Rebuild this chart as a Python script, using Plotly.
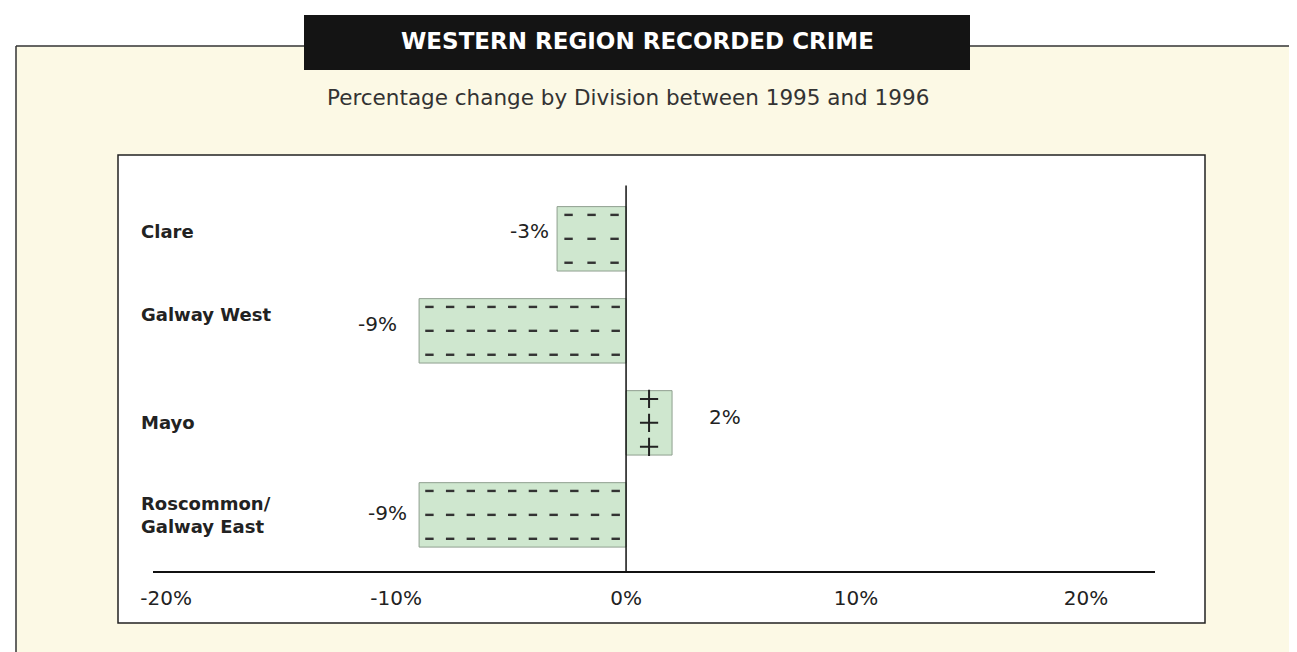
import plotly.graph_objects as go

# data
DIVISIONS = ['Clare', 'Galway West', 'Mayo', 'Roscommon/<br>Galway East']
CHANGE = [-3, -9, 2, -9]
TICK_VALUES = [-20, -10, 0, 10, 20]
TICK_LABELS = ['-20%', '-10%', '0%', '10%', '20%']

TITLE = 'WESTERN REGION RECORDED CRIME'
SUBTITLE = 'Percentage change by Division between 1995 and 1996'

W, H = 1297, 652
L, R, T, B = 145, 150, 148, 89
FONT = 'DejaVu Sans'
INK = '#222222'
BAR_FILL = '#cfe7cf'
PAPER_TINT = '#fcf9e5'

# hand placement of the labels in the original (pixels)
NAME_DY = [7, 16, 0, 0]
VALUE_DX = [-6, -20, 35, -10]
VALUE_DY = [8, 7, 6, 2]

pos = list(range(len(DIVISIONS)))


def px_x(x):
    # pixel -> paper fraction (horizontal)
    return (x - L) / (W - L - R)


def px_y(y):
    return (H - B - y) / (H - T - B)


fig = go.Figure()

fig.add_trace(go.Bar(
    y=pos, x=CHANGE, orientation='h', width=0.7,
    marker=dict(color=BAR_FILL, line=dict(color='#8f9f8f', width=1)),
    hoverinfo='skip', showlegend=False,
))

# little dashes inside the negative bars, plus signs inside the positive ones
rows = [-0.26, 0, 0.26]
dx, dy, ppx, ppy = [], [], [], []
for p, v in zip(pos, CHANGE):
    if v < 0:
        n = max(1, round(-v / 0.9))
        step = -v / n
        for k in range(n):
            for r in rows:
                dx.append(-(k + 0.5) * step)
                dy.append(p + r)
    else:
        for r in rows:
            ppx.append(v / 2)
            ppy.append(p + r)

fig.add_trace(go.Scatter(
    x=dx, y=dy, mode='markers', hoverinfo='skip', showlegend=False,
    marker=dict(symbol='line-ew', size=6, line=dict(color='#333333', width=2.4)),
))
fig.add_trace(go.Scatter(
    x=ppx, y=ppy, mode='markers', hoverinfo='skip', showlegend=False,
    marker=dict(symbol='cross-thin', size=13, line=dict(color=INK, width=2)),
))

shapes = [
    # pale yellow panel with its top and left rule
    dict(type='rect', xref='paper', yref='paper', layer='below',
         x0=px_x(8), x1=px_x(1310), y0=px_y(670), y1=px_y(38),
         fillcolor=PAPER_TINT, line=dict(width=0)),
    dict(type='line', xref='paper', yref='paper', layer='below',
         x0=px_x(8), x1=px_x(1297), y0=px_y(38), y1=px_y(38),
         line=dict(color='#333333', width=1.5)),
    dict(type='line', xref='paper', yref='paper', layer='below',
         x0=px_x(8), x1=px_x(8), y0=px_y(38), y1=px_y(660),
         line=dict(color='#333333', width=1.5)),
    # white inner box
    dict(type='rect', xref='paper', yref='paper', layer='below',
         x0=px_x(110), x1=px_x(1197), y0=px_y(615), y1=px_y(147),
         fillcolor='white', line=dict(color='#222222', width=1.5)),
    # black title bar
    dict(type='rect', xref='paper', yref='paper', layer='below',
         x0=px_x(296), x1=px_x(962), y0=px_y(62), y1=px_y(7),
         fillcolor='#141414', line=dict(width=0)),
    # zero line
    dict(type='line', xref='x', yref='y', x0=0, x1=0, y0=-0.58, y1=3.61,
         line=dict(color='#111111', width=1.5)),
]

annotations = [
    dict(text=f'<b>{TITLE}</b>', xref='paper', yref='paper',
         x=px_x(629), y=px_y(33), yanchor='middle', showarrow=False,
         font=dict(family=FONT, size=23, color='white')),
    dict(text=SUBTITLE, xref='paper', yref='paper',
         x=px_x(620), y=px_y(89), yanchor='middle', showarrow=False,
         font=dict(family=FONT, size=21.5, color='#333333')),
]

for p, name, ny in zip(pos, DIVISIONS, NAME_DY):
    annotations.append(dict(
        text=f'<b>{name}</b>', xref='paper', yref='y', x=px_x(131), y=p,
        xanchor='left', yanchor='middle', align='left', yshift=ny,
        showarrow=False, font=dict(family=FONT, size=18, color=INK)))

for p, v, sx, sy in zip(pos, CHANGE, VALUE_DX, VALUE_DY):
    annotations.append(dict(
        text=f'{v}%', xref='x', yref='y', x=v, y=p, showarrow=False,
        xanchor='right' if v < 0 else 'left', yanchor='middle',
        xshift=sx, yshift=sy,
        font=dict(family=FONT, size=20, color=INK)))

fig.update_layout(
    width=W, height=H,
    margin=dict(l=L, r=R, t=T, b=B),
    paper_bgcolor='white', plot_bgcolor='rgba(0,0,0,0)',
    bargap=0.3, shapes=shapes, annotations=annotations,
)
fig.update_xaxes(
    range=[-20.57, 23.0], tickvals=TICK_VALUES, ticktext=TICK_LABELS,
    showgrid=False, zeroline=False, showline=True, linecolor='#111111',
    linewidth=1.5, ticks='', ticklabelstandoff=8,
    tickfont=dict(family=FONT, size=20, color=INK),
)
fig.update_yaxes(
    range=[3.61, -0.9], showticklabels=False, showgrid=False,
    zeroline=False, showline=False,
)

fig.write_html('out.html')
